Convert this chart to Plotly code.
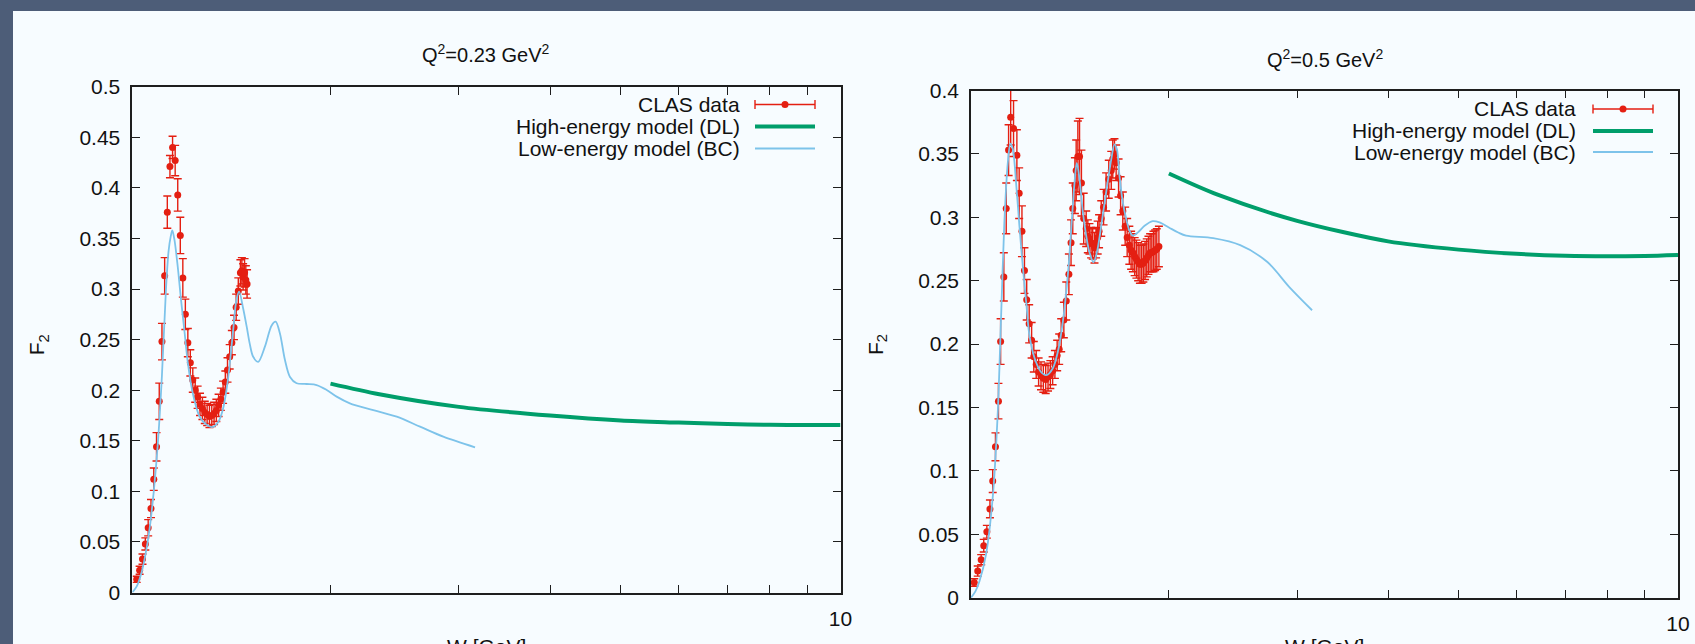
import numpy as np
import plotly.graph_objects as go

# ---------------- data ----------------
# Panel 1: Q^2 = 0.23 GeV^2
W_CLAS_023 = [1.085, 1.095, 1.105, 1.115, 1.125, 1.135, 1.145, 1.155, 1.165, 1.175,
              1.185, 1.195, 1.205, 1.215, 1.225, 1.235, 1.245, 1.255, 1.265, 1.275,
              1.285, 1.295, 1.305, 1.315, 1.325, 1.335, 1.345, 1.355, 1.365, 1.375,
              1.385, 1.395, 1.405, 1.415, 1.425, 1.435, 1.445, 1.455, 1.465, 1.475,
              1.485, 1.495, 1.505, 1.512, 1.518, 1.525, 1.531, 1.537]
F2_CLAS_023 = [0.013, 0.022, 0.033, 0.048, 0.064, 0.083, 0.112, 0.144, 0.189, 0.248,
               0.313, 0.376, 0.421, 0.440, 0.427, 0.393, 0.353, 0.311, 0.275, 0.247,
               0.227, 0.210, 0.200, 0.193, 0.186, 0.182, 0.178, 0.176, 0.174, 0.175,
               0.177, 0.180, 0.185, 0.191, 0.198, 0.208, 0.220, 0.233, 0.247, 0.262,
               0.282, 0.298, 0.316, 0.318, 0.312, 0.316, 0.309, 0.305]
ERR_CLAS_023 = [0.003, 0.004, 0.005, 0.006, 0.008, 0.009, 0.011, 0.014, 0.018, 0.018,
                0.018, 0.016, 0.011, 0.011, 0.015, 0.016, 0.018, 0.019, 0.015, 0.014,
                0.013, 0.012, 0.012, 0.011, 0.011, 0.011, 0.011, 0.011, 0.011, 0.011,
                0.011, 0.011, 0.011, 0.011, 0.011, 0.011, 0.012, 0.012, 0.012, 0.012,
                0.013, 0.013, 0.013, 0.013, 0.013, 0.014, 0.014, 0.014]

W_BC_023 = [1.070, 1.085, 1.100, 1.115, 1.130, 1.145, 1.160, 1.175, 1.190, 1.200,
            1.208, 1.214, 1.222, 1.235, 1.248, 1.262, 1.275, 1.295, 1.323, 1.351,
            1.377, 1.402, 1.424, 1.447, 1.470, 1.486, 1.499, 1.518, 1.535, 1.550,
            1.567, 1.592, 1.626, 1.661, 1.682, 1.705, 1.732, 1.760, 1.797, 1.855,
            1.914, 1.976, 2.039, 2.126, 2.289, 2.465, 2.653, 2.855, 3.156]
F2_BC_023 = [0.000, 0.006, 0.018, 0.037, 0.063, 0.100, 0.148, 0.215, 0.300, 0.338,
             0.352, 0.358, 0.349, 0.322, 0.289, 0.257, 0.227, 0.197, 0.174, 0.166,
             0.1635, 0.168, 0.181, 0.2105, 0.257, 0.289, 0.2975, 0.281, 0.263, 0.246,
             0.233, 0.228, 0.243, 0.264, 0.2677, 0.256, 0.230, 0.213, 0.2068, 0.2061,
             0.2051, 0.2002, 0.1936, 0.187, 0.1804, 0.1738, 0.1639, 0.154, 0.1435]

W_DL = [2.0, 2.333, 3.0, 4.0, 5.0, 6.0, 7.0, 8.0, 9.0, 10.0]
F2_DL_023 = [0.2065, 0.1960, 0.1835, 0.1749, 0.1700, 0.1680, 0.1665, 0.1658, 0.1656, 0.1657]

# Panel 2: Q^2 = 0.5 GeV^2
W_CLAS_05 = [1.081, 1.093, 1.105, 1.114, 1.125, 1.136, 1.146, 1.156, 1.167, 1.175,
             1.187, 1.196, 1.205, 1.213, 1.224, 1.237, 1.246, 1.257, 1.267, 1.276,
             1.286, 1.296, 1.305, 1.315, 1.325, 1.335, 1.345, 1.355, 1.365, 1.375,
             1.385, 1.395, 1.405, 1.414, 1.423, 1.435, 1.446, 1.458, 1.468, 1.476,
             1.486, 1.492, 1.500, 1.508, 1.517, 1.528, 1.540, 1.548, 1.556, 1.564,
             1.572, 1.581, 1.589, 1.597, 1.604, 1.615, 1.627, 1.640, 1.654, 1.667,
             1.675, 1.684, 1.693, 1.706, 1.717, 1.729, 1.742, 1.753, 1.765, 1.775,
             1.785, 1.795, 1.805, 1.815, 1.825, 1.835, 1.845, 1.855, 1.865, 1.875,
             1.885, 1.895, 1.905, 1.915, 1.925, 1.938]
F2_CLAS_05 = [0.012, 0.021, 0.030, 0.041, 0.052, 0.070, 0.092, 0.119, 0.155, 0.202,
              0.253, 0.307, 0.353, 0.379, 0.370, 0.349, 0.319, 0.289, 0.258, 0.235,
              0.216, 0.203, 0.190, 0.184, 0.178, 0.175, 0.173, 0.172, 0.174, 0.176,
              0.179, 0.184, 0.191, 0.196, 0.207, 0.219, 0.234, 0.255, 0.280, 0.307,
              0.325, 0.337, 0.348, 0.348, 0.327, 0.299, 0.291, 0.285, 0.283, 0.280,
              0.279, 0.276, 0.280, 0.284, 0.289, 0.299, 0.308, 0.320, 0.330, 0.337,
              0.346, 0.350, 0.343, 0.331, 0.317, 0.305, 0.293, 0.284, 0.278, 0.274,
              0.272, 0.269, 0.267, 0.265, 0.263, 0.263, 0.264, 0.266, 0.268, 0.270,
              0.272, 0.272, 0.273, 0.274, 0.275, 0.277]
ERR_CLAS_05 = [0.003, 0.004, 0.004, 0.005, 0.005, 0.007, 0.009, 0.011, 0.014, 0.018,
               0.019, 0.020, 0.020, 0.022, 0.022, 0.020, 0.020, 0.020, 0.018, 0.016,
               0.015, 0.014, 0.012, 0.011, 0.011, 0.011, 0.011, 0.011, 0.011, 0.011,
               0.011, 0.011, 0.012, 0.012, 0.013, 0.014, 0.015, 0.016, 0.018, 0.020,
               0.022, 0.024, 0.028, 0.030, 0.026, 0.020, 0.014, 0.013, 0.012, 0.012,
               0.012, 0.012, 0.012, 0.013, 0.013, 0.014, 0.014, 0.015, 0.015, 0.015,
               0.015, 0.012, 0.014, 0.015, 0.015, 0.015, 0.015, 0.015, 0.015, 0.015,
               0.015, 0.015, 0.015, 0.015, 0.015, 0.015, 0.015, 0.015, 0.015, 0.015,
               0.015, 0.015, 0.016, 0.016, 0.016, 0.016]

W_BC_05 = [1.070, 1.085, 1.099, 1.122, 1.146, 1.164, 1.177, 1.189, 1.202, 1.212,
           1.221, 1.234, 1.247, 1.260, 1.274, 1.287, 1.308, 1.335, 1.357, 1.386,
           1.408, 1.430, 1.453, 1.469, 1.484, 1.495, 1.508, 1.524, 1.540, 1.556,
           1.576, 1.593, 1.615, 1.640, 1.667, 1.684, 1.697, 1.711, 1.729, 1.748,
           1.766, 1.785, 1.814, 1.852, 1.900, 1.942, 2.000, 2.060, 2.112, 2.301,
           2.506, 2.731, 2.925, 3.145]
F2_BC_05 = [0.000, 0.005, 0.013, 0.034, 0.079, 0.144, 0.223, 0.296, 0.343, 0.358,
            0.354, 0.327, 0.293, 0.262, 0.233, 0.207, 0.189, 0.178, 0.1755, 0.181,
            0.194, 0.217, 0.254, 0.291, 0.327, 0.343, 0.330, 0.304, 0.2855, 0.2724,
            0.2645, 0.2724, 0.2933, 0.3195, 0.3457, 0.3575, 0.3536, 0.3326, 0.3117, 0.2986,
            0.2894, 0.2855, 0.2881, 0.2933, 0.297, 0.296, 0.292, 0.288, 0.2855, 0.2835,
            0.278, 0.2647, 0.2452, 0.2267]

F2_DL_05 = [0.3345, 0.3178, 0.2972, 0.2810, 0.2745, 0.2712, 0.2696, 0.2692, 0.2695, 0.2703]

PANEL_TITLES = ["Q<sup>2</sup>=0.23 GeV<sup>2</sup>", "Q<sup>2</sup>=0.5 GeV<sup>2</sup>"]
LEGEND_LABELS = ["CLAS data", "High-energy model (DL)", "Low-energy model (BC)"]
X_MAJOR_TICKS = [10]
X_MINOR_TICKS = [2, 3, 4, 5, 6, 7, 8, 9]

# ---------------- styling / layout ----------------
FW, FH = 1695, 644
RED = "#e41f12"
GREEN = "#009e6b"
BLUE = "#7dc3ea"
AXC = "#1e1e1e"
WHITE = "#f7fcff"
SLIDE = "#4d5d78"
TXT = "#111111"
FONT = "Liberation Sans, Arial, Helvetica, sans-serif"


def px(x):
    return x / FW


def py(y):
    return 1 - y / FH


panels = [
    dict(xs="x", ys="y", xn="xaxis", yn="yaxis", xl=132.3, xr=840.5, yt=86.7, yb=592.5,
         yr=[0, 0.5], w=W_CLAS_023, f=F2_CLAS_023, e=ERR_CLAS_023,
         wbc=W_BC_023, fbc=F2_BC_023, fdl=F2_DL_023,
         title=PANEL_TITLES[0], ty=54, fy=345, leg_x=741.7, leg_y=[104.5, 126.5, 148.5],
         samp=[755, 815]),
    dict(xs="x2", ys="y2", xn="xaxis2", yn="yaxis2", xl=971.0, xr=1678.0, yt=90.5, yb=597.7,
         yr=[0, 0.4], w=W_CLAS_05, f=F2_CLAS_05, e=ERR_CLAS_05,
         wbc=W_BC_05, fbc=F2_BC_05, fdl=F2_DL_05,
         title=PANEL_TITLES[1], ty=59, fy=345, leg_x=1578.3, leg_y=[109.0, 131.0, 152.0],
         samp=[1593, 1653]),
]

fig = go.Figure()
layout = dict(
    template="none",
    width=FW, height=FH,
    margin=dict(l=0, r=0, t=0, b=0, pad=0, autoexpand=False),
    paper_bgcolor=SLIDE,
    plot_bgcolor=WHITE,
    showlegend=False,
    font=dict(family=FONT, size=21, color=TXT),
)
shapes = [dict(type="rect", xref="paper", yref="paper", x0=px(13), x1=1.0,
               y0=0.0, y1=py(11), fillcolor=WHITE, line=dict(width=0), layer="below")]
annotations = []

for p in panels:
    # CLAS data
    fig.add_trace(go.Scatter(
        x=p["w"], y=p["f"], mode="markers", xaxis=p["xs"], yaxis=p["ys"],
        marker=dict(color=RED, size=7, line=dict(width=0)),
        error_y=dict(type="data", array=p["e"], visible=True, color=RED,
                     thickness=1.4, width=4),
        name=LEGEND_LABELS[0]))
    # DL model
    fig.add_trace(go.Scatter(
        x=W_DL, y=p["fdl"], mode="lines", xaxis=p["xs"], yaxis=p["ys"],
        line=dict(color=GREEN, width=4, shape="spline", smoothing=0.8),
        name=LEGEND_LABELS[1]))
    # BC model
    fig.add_trace(go.Scatter(
        x=p["wbc"], y=p["fbc"], mode="lines", xaxis=p["xs"], yaxis=p["ys"],
        line=dict(color=BLUE, width=1.8, shape="spline", smoothing=0.9),
        name=LEGEND_LABELS[2]))

    layout[p["xn"]] = dict(
        type="log", range=[np.log10(1.07), 1.0],
        domain=[px(p["xl"]), px(p["xr"])], anchor=p["ys"],
        tickmode="array", tickvals=X_MAJOR_TICKS, ticktext=["10"],
        ticks="inside", ticklen=8, tickwidth=1.3, tickcolor=AXC,
        minor=dict(tickmode="array", tickvals=X_MINOR_TICKS, ticks="inside",
                   ticklen=8, tickwidth=1.3, tickcolor=AXC, showgrid=False),
        showline=True, linecolor=AXC, linewidth=1.6, mirror="ticks",
        showgrid=False, zeroline=False, automargin=False, ticklabelstandoff=6,
        tickfont=dict(family=FONT, size=21, color=TXT))
    layout[p["yn"]] = dict(
        range=p["yr"], domain=[py(p["yb"]), py(p["yt"])], anchor=p["xs"],
        tickmode="linear", dtick=0.05, tick0=0,
        ticks="inside", ticklen=8, tickwidth=1.3, tickcolor=AXC,
        showline=True, linecolor=AXC, linewidth=1.6, mirror="ticks",
        showgrid=False, zeroline=False, automargin=False, ticklabelstandoff=6,
        tickfont=dict(family=FONT, size=21, color=TXT))

    cx = (p["xl"] + p["xr"]) / 2
    # panel title
    annotations.append(dict(text=p["title"], x=px(cx), y=py(p["ty"]), xref="paper", yref="paper",
                            xanchor="center", yanchor="middle", showarrow=False,
                            font=dict(family=FONT, size=20, color=TXT)))
    # y-axis title
    annotations.append(dict(text="F<sub>2</sub>", x=px(p["xl"] - 94), y=py(p["fy"]),
                            xref="paper", yref="paper", textangle=-90,
                            xanchor="center", yanchor="middle", showarrow=False,
                            font=dict(family=FONT, size=21, color=TXT)))
    # x-axis title (cut by the bottom edge, as in the original)
    annotations.append(dict(text="W [GeV]", x=px(cx), y=py(646), xref="paper", yref="paper",
                            xanchor="center", yanchor="middle", showarrow=False,
                            font=dict(family=FONT, size=21, color=TXT)))
    # key
    s0, s1 = p["samp"]
    for i, lab in enumerate(LEGEND_LABELS):
        annotations.append(dict(text=lab, x=px(p["leg_x"]), y=py(p["leg_y"][i]),
                                xref="paper", yref="paper", xanchor="right", yanchor="middle",
                                showarrow=False,
                                font=dict(family=FONT, size=21, color=TXT)))
    ly = p["leg_y"]
    shapes += [
        dict(type="line", xref="paper", yref="paper", x0=px(s0), x1=px(s1),
             y0=py(ly[0]), y1=py(ly[0]), line=dict(color=RED, width=1.4)),
        dict(type="line", xref="paper", yref="paper", x0=px(s0), x1=px(s0),
             y0=py(ly[0] - 4.5), y1=py(ly[0] + 4.5), line=dict(color=RED, width=1.4)),
        dict(type="line", xref="paper", yref="paper", x0=px(s1), x1=px(s1),
             y0=py(ly[0] - 4.5), y1=py(ly[0] + 4.5), line=dict(color=RED, width=1.4)),
        dict(type="circle", xref="paper", yref="paper",
             x0=px((s0 + s1) / 2 - 3.5), x1=px((s0 + s1) / 2 + 3.5),
             y0=py(ly[0] + 3.5), y1=py(ly[0] - 3.5),
             fillcolor=RED, line=dict(color=RED, width=0)),
        dict(type="line", xref="paper", yref="paper", x0=px(s0), x1=px(s1),
             y0=py(ly[1]), y1=py(ly[1]), line=dict(color=GREEN, width=4)),
        dict(type="line", xref="paper", yref="paper", x0=px(s0), x1=px(s1),
             y0=py(ly[2]), y1=py(ly[2]), line=dict(color=BLUE, width=1.8)),
    ]

layout["shapes"] = shapes
layout["annotations"] = annotations
fig.update_layout(**layout)

fig.write_html("out.html", config={"displayModeBar": False})
